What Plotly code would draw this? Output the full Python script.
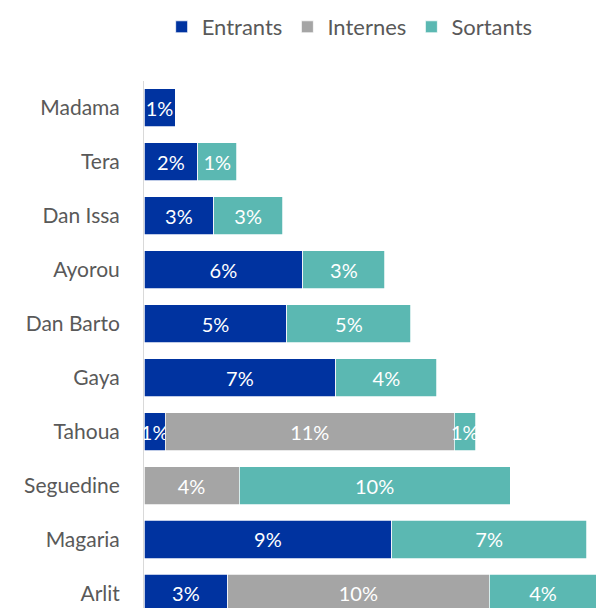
import plotly.graph_objects as go

categories = ["Madama", "Tera", "Dan Issa", "Ayorou", "Dan Barto", "Gaya",
              "Tahoua", "Seguedine", "Magaria", "Arlit"]
entrants = [1.15, 1.99, 2.58, 5.88, 5.29, 7.10, 0.79, None, 9.17, 3.10]
internes = [None, None, None, None, None, None, 10.69, 3.52, None, 9.67]
sortants = [None, 1.44, 2.55, 3.04, 4.59, 3.74, 0.79, 10.03, 7.21, 4.00]

series = [
    ("Entrants", entrants, "#0033A0"),
    ("Internes", internes, "#A5A5A5"),
    ("Sortants", sortants, "#5BB8B2"),
]

FONT = "Lato"
fig = go.Figure()
for name, vals, color in series:
    fig.add_trace(go.Bar(
        name=name, y=categories, x=vals, orientation="h",
        marker=dict(color=color, line=dict(color="white", width=0.75)),
        texttemplate="%{x:.0f}%", textposition="inside", textangle=0,
        insidetextanchor="middle", constraintext="none",
        textfont=dict(color="white", size=20, family=FONT),
        hoverinfo="skip",
    ))

fig.update_layout(
    width=596, height=608,
    margin=dict(l=144, r=0, t=81, b=0),
    barmode="stack", bargap=0.295,
    plot_bgcolor="white", paper_bgcolor="white",
    font=dict(family=FONT, color="#595959", size=21),
    showlegend=True,
    legend=dict(orientation="h", x=0.455, xanchor="center",
                y=1.1025, yanchor="middle",
                font=dict(size=22, color="#595959", family=FONT),
                traceorder="normal", itemclick=False, itemwidth=30),
    xaxis=dict(range=[0, 16.73], showticklabels=False, showgrid=False,
               zeroline=False, showline=False, fixedrange=True),
    yaxis=dict(range=[9.27, -0.5], showgrid=False, zeroline=False,
               showline=True, linecolor="#D9D9D9", linewidth=1,
               ticks="outside", ticklen=19, tickcolor="rgba(0,0,0,0)",
               tickfont=dict(size=21, color="#595959", family=FONT),
               fixedrange=True),
)

fig.write_html("out.html")
